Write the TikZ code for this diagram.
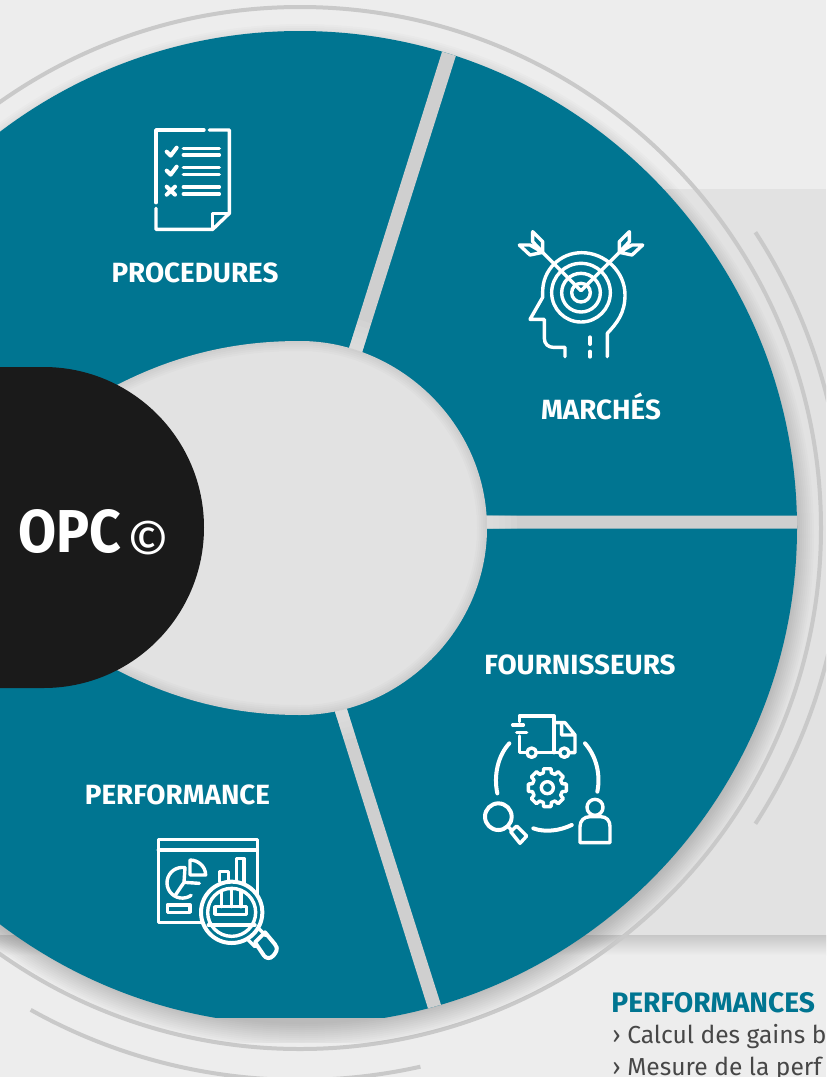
\documentclass[tikz,border=0pt]{standalone}
\usepackage{fontspec}
\setmainfont{Fira Sans}
\definecolor{wheelteal}{HTML}{007591}
\definecolor{bgpale}{HTML}{EDEDED}
\definecolor{panelgrey}{HTML}{E2E2E2}
\definecolor{ringgrey}{HTML}{C9C9C9}
\definecolor{gapgrey}{HTML}{CFCFCF}
\definecolor{hubblack}{HTML}{1A1A1A}
\definecolor{bodygrey}{HTML}{474747}
\newcommand{\holepath}{(487,528) .. controls (487,425) and (400,341) .. (300,341) .. controls (240,341) and (170,352) .. (90,400) -- (90,655) .. controls (170,703) and (240,715) .. (300,715) .. controls (400,715) and (487,630) .. (487,528) -- cycle}
\newcommand{\gappaths}{(452,20) -- (465,27) -- (353,381) -- (340,377) -- cycle (470,515.5) -- (810,515.5) -- (810,528.5) -- (470,528.5) -- cycle (326,683) -- (338,681) -- (449,1030) -- (436,1034) -- cycle}
\tikzset{
  ringline/.style={draw=ringgrey,line width=2pt},
  iconline/.style={draw=white,line width=2pt,line join=round,line cap=round},
  iconfine/.style={draw=white,line width=1.7pt,line join=round,line cap=round},
  zoomed/.style={x=0.16667pt,y=-0.16667pt},
  seglabel/.style={text=white,inner sep=0pt,font=\bfseries\fontsize{13.9}{15}\selectfont},
}
\begin{document}
\begin{tikzpicture}[x=0.5pt,y=-0.5pt]
\useasboundingbox (0,0) rectangle (826,1077);
\clip (0,0) rectangle (826,1077);
\fill[bgpale] (0,0) rectangle (826,1077);
% panel and its shadow
\shade[top color=black!22,bottom color=bgpale] (0,935) rectangle (826,955);
\fill[panelgrey] (0,189) rectangle (826,935);
% rings
\draw[ringline] (300,528) circle[radius=521];
\draw[ringline] (300,528) ++(-33:543) arc[start angle=-33,end angle=33,radius=543];
\draw[ringline] (300,528) ++(77.4:552) arc[start angle=77.4,end angle=119.2,radius=552];
% wheel shadow
\begin{scope}
\clip (0,0) rectangle (826,1042);
\foreach \r in {488,490,...,512}
  \fill[black,opacity=.016] (302,536) circle[radius=\r];
\end{scope}
% wheel
\begin{scope}
\clip (-5,-5) rectangle (830,1017);
\clip (300,528) circle[radius=497];
\fill[wheelteal] (0,0) rectangle (826,1077);
\fill[gapgrey] \gappaths;
\end{scope}
% soft fade of the gaps towards the hole
\begin{scope}
\clip \gappaths;
\foreach \w in {60,48,36,24,12}
  \draw[panelgrey,opacity=.22,line width=\w*0.5pt] \holepath;
\end{scope}
% hole
\fill[panelgrey] \holepath;
\begin{scope}
\clip \holepath;
\foreach \w in {4,8,...,20}
  \draw[black,opacity=.014,line width=\w*0.5pt] \holepath;
\end{scope}
% hub
\fill[hubblack] (-5,367) -- (43.5,367) arc[start angle=-90,end angle=90,radius=160.5] -- (-5,688) -- cycle;
\node[inner sep=0pt,anchor=base west,text=white] (hub) at (18,552)
  {\resizebox{51.5pt}{21.5pt}{\fontsize{31}{33}\selectfont\bfseries OPC}\hspace{2.5pt}\fontsize{27}{30}\selectfont\rmfamily\raisebox{-4.8pt}{©}};
% labels
\node[seglabel] (procedures) at (195,273) {PROCEDURES};
\node[seglabel] (marches) at (601,406) {MARCHÉS};
\node[seglabel] (fournisseurs) at (580,665) {FOURNISSEURS};
\node[seglabel] (performance) at (177.5,795) {PERFORMANCE};
\node[inner sep=0pt,anchor=base west,text=wheelteal,font=\bfseries\fontsize{14.1}{15}\selectfont] (perftitle) at (611,1012) {PERFORMANCES};
\node[inner sep=0pt,anchor=base west,text=bodygrey,font=\fontsize{12.3}{15}\selectfont] (perfone) at (612,1043) {› Calcul des gains b};
\node[inner sep=0pt,anchor=base west,text=bodygrey,font=\fontsize{12.3}{15}\selectfont] (perftwo) at (612,1075) {› Mesure de la perf};
% icon: checklist
\begin{scope}[shift={(130,110)},zoomed]
\draw[iconfine] (222,60) -- (78,60) -- (78,278);
\draw[iconfine] (78,295) -- (78,358) -- (248,358) -- (298,310) -- (298,60) -- (238,60);
\draw[iconfine] (298,310) -- (248,310) -- (248,358);
\draw[iconline] (110,125) -- (122,137) -- (140,113);
\draw[iconline] (110,182) -- (122,194) -- (140,170);
\draw[iconline] (110,230) -- (135,254) (135,230) -- (110,254);
\draw[iconfine] (160,115) -- (268,115) (160,135) -- (268,135) (160,172) -- (268,172) (160,193) -- (268,193) (160,231) -- (268,231) (160,252) -- (268,252);
\end{scope}
% icon: head and target
\begin{scope}[shift={(500,220)},zoomed]
\draw[iconfine] (322,410) -- (322,340) .. controls (350,310) and (375,280) .. (375,225) .. controls (375,155) and (315,98) .. (245,98) .. controls (180,98) and (128,150) .. (128,215) -- (128,232) -- (90,298) -- (133,298) -- (133,355) .. controls (133,372) and (145,382) .. (160,382) -- (195,382) -- (195,410);
\draw[iconline] (270,352) -- (270,372) (270,395) -- (270,410);
\draw[iconfine] (243,218) circle[radius=88] (243,218) circle[radius=58] (243,218) circle[radius=28];
\draw[iconfine] (243,212) -- (128,97) (243,212) -- (358,97);
\draw[iconfine] (98,35) -- (128,65) -- (128,97) -- (98,65) -- cycle (58,75) -- (90,75) -- (128,97) -- (90,105) -- cycle;
\draw[iconfine] (388,35) -- (358,65) -- (358,97) -- (388,65) -- cycle (428,75) -- (396,75) -- (358,97) -- (396,105) -- cycle;
\end{scope}
% icon: supply chain
\begin{scope}[shift={(470,700)},zoomed]
\draw[iconfine] (148,65) -- (148,48) -- (252,48) -- (252,158) (148,108) -- (148,158) -- (170,158) (200,158) -- (268,158);
\draw[iconfine] (252,68) -- (285,68) -- (315,105) -- (315,158) -- (298,158) (275,75) -- (275,105) -- (315,105);
\draw[iconfine] (128,75) -- (160,75) (140,98) -- (170,98);
\draw[iconfine] (185,158) circle[radius=14] (283,158) circle[radius=14];
\draw[iconline] (118,130) .. controls (85,165) and (70,225) .. (82,280);
\draw[iconline] (345,130) .. controls (380,170) and (392,225) .. (382,275);
\draw[iconline] (190,385) .. controls (225,398) and (270,392) .. (305,375);
\begin{scope}[shift={(232,263)}]
\draw[iconfine] (-11:58) \foreach \a in {0,45,...,315} { -- (\a-11:58) -- (\a+11:58) -- (\a+15:46) -- (\a+30:46)} -- cycle;
\draw[iconfine] (0,0) circle[radius=18];
\end{scope}
\draw[iconline] (85,350) circle[radius=40];
\draw[iconfine] (113,378) -- (126,392);
\draw[iconfine] (122,395) -- (140,378) -- (170,408) -- (150,430) -- cycle;
\draw[iconfine] (375,322) circle[radius=24];
\draw[iconfine] (330,428) -- (330,380) .. controls (330,362) and (342,350) .. (360,350) -- (392,350) .. controls (410,350) and (420,362) .. (420,380) -- (420,428) -- cycle;
\end{scope}
% icon: dashboard and lens
\begin{scope}[shift={(140,825)},zoomed]
\draw[iconfine] (190,292) -- (55,292) -- (55,43) -- (352,43) -- (352,215);
\draw[iconfine] (55,75) -- (352,75);
\draw[iconfine] (135,128) arc[start angle=-80,end angle=-305,radius=46] ;
\draw[iconfine] (135,128) -- (132,172) -- (178,175) (105,212) -- (132,172);
\draw[iconfine] (150,105) -- (150,150) -- (197,150) .. controls (197,125) and (175,105) .. (150,105);
\draw[iconfine] (238,170) -- (238,140) -- (265,140) -- (265,170) (290,175) -- (290,100) -- (312,100) -- (312,190);
\draw[iconfine] (82,240) rectangle (150,262);
\draw[iconline,fill=wheelteal] (275,262) circle[radius=92];
\draw[iconfine] (275,262) circle[radius=72];
\draw[iconfine] (225,245) rectangle (320,268);
\draw[iconfine] (245,200) -- (245,245) (275,195) -- (275,245) (303,200) -- (303,245) (205,300) -- (345,300);
\draw[iconfine] (358,312) -- (378,332) (325,345) -- (345,365);
\draw[iconline] (345,352) -- (375,322) -- (405,358) .. controls (418,372) and (405,385) .. (400,392) .. controls (390,403) and (378,400) .. (372,392) -- cycle;
\end{scope}
\end{tikzpicture}
\end{document}
